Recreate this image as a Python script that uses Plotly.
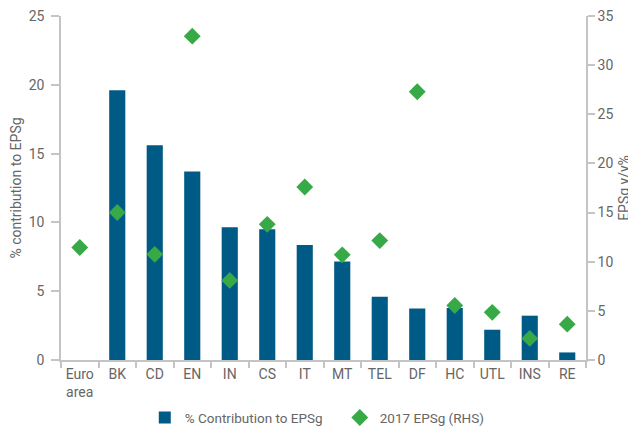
import plotly.graph_objects as go

categories = ["Euro<br>area", "BK", "CD", "EN", "IN", "CS", "IT", "MT",
              "TEL", "DF", "HC", "UTL", "INS", "RE"]
contribution = [None, 19.6, 15.6, 13.7, 9.65, 9.5, 8.35, 7.15,
                4.6, 3.75, 3.77, 2.2, 3.22, 0.55]
eps_2017 = [11.45, 15.0, 10.75, 32.95, 8.1, 13.8, 17.6, 10.7,
            12.15, 27.3, 5.55, 4.85, 2.2, 3.65]

font = "Roboto, Arial, sans-serif"
grey = "#666666"
axis_col = "#c4c4c4"

bars = go.Bar(
    x=categories, y=contribution,
    name="% Contribution to EPSg",
    marker=dict(color="#005a86", line=dict(width=0)),
    width=0.43,
)

diamonds = go.Scatter(
    x=categories, y=eps_2017,
    name="2017 EPSg (RHS)",
    mode="markers",
    marker=dict(symbol="diamond", size=13, color="#37a947"),
    yaxis="y2",
)

# page body has an 8px margin, so the figure is a bit smaller than the window
layout = go.Layout(
    width=628, height=419,
    margin=dict(l=53, r=50, t=8, b=67),
    paper_bgcolor="white", plot_bgcolor="white",
    font=dict(family=font, size=14, color=grey),
    showlegend=True,
    legend=dict(orientation="h", x=0.531, xanchor="center",
                yref="container", y=0.022, yanchor="middle",
                entrywidth=150, borderwidth=0,
                font=dict(size=13.5, color=grey)),
    xaxis=dict(range=[-0.5, 13.5], showline=True, linecolor=axis_col,
               linewidth=1.5, ticks="outside", tickson="boundaries",
               ticklen=6, tickcolor=axis_col, tickwidth=1.5, showgrid=False,
               tickangle=0, automargin=False),
    yaxis=dict(range=[0, 25], dtick=5, showline=True, linecolor=axis_col,
               linewidth=1.5, ticks="outside", ticklen=8, tickcolor=axis_col,
               tickwidth=1.5, showgrid=False, zeroline=False, automargin=False,
               ticklabelstandoff=4, ticklabeloverflow="allow",
               title=dict(text="% contribution to EPSg", standoff=10,
                          font=dict(size=14))),
    yaxis2=dict(range=[0, 35], dtick=5, overlaying="y", side="right",
                showline=True, linecolor=axis_col, linewidth=1.5,
                ticks="outside", ticklen=7, tickcolor=axis_col, tickwidth=1.5,
                showgrid=False, zeroline=False, automargin=False,
                ticklabeloverflow="allow",
                title=dict(text="EPSg y/y%", standoff=7,
                           font=dict(size=14))),
)

fig = go.Figure(data=[bars, diamonds], layout=layout)
fig.write_html("out.html")
